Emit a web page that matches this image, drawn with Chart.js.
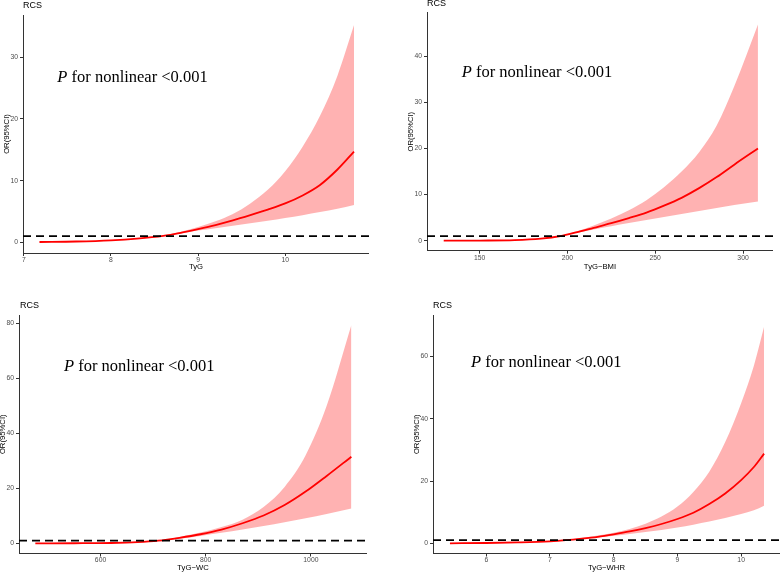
<!DOCTYPE html>
<html><head><meta charset="utf-8">
<script src="https://cdn.jsdelivr.net/npm/chart.js@4"></script>
<style>
html,body{margin:0;padding:0;background:#fff;overflow:hidden;width:780px;height:572px;}
#wrap{position:relative;width:780px;height:572px;overflow:hidden;background:#fff;}
canvas{position:absolute;}
.rcs{position:absolute;font-family:'Liberation Sans',Arial,sans-serif;font-size:9px;line-height:9px;color:#000;white-space:nowrap;}
.ann{position:absolute;font-family:'Liberation Serif','Times New Roman',serif;font-size:16.5px;line-height:16.5px;color:#000;white-space:nowrap;}
</style></head><body><div id="wrap"></div>
<script>
// ---------- data ----------
const tygX     = [7.18, 7.6, 8.0, 8.3, 8.6, 8.8, 9.0, 9.2, 9.4, 9.6, 9.8, 10.0, 10.2, 10.4, 10.6, 10.79];
const tygOR    = [0.05, 0.13, 0.32, 0.6, 1.05, 1.55, 2.15, 2.8, 3.55, 4.4, 5.3, 6.3, 7.6, 9.3, 11.8, 14.7];
const tygLow   = [0.04, 0.11, 0.29, 0.56, 1.0, 1.45, 1.9, 2.3, 2.7, 3.1, 3.5, 3.95, 4.4, 4.9, 5.45, 6.05];
const tygUp    = [0.06, 0.15, 0.35, 0.64, 1.1, 1.7, 2.5, 3.4, 4.6, 6.3, 8.5, 11.5, 15.5, 20.5, 27.0, 35.2];

const bmiX     = [129.6, 150, 170, 185, 196, 205, 215, 225, 235, 245, 255, 265, 275, 285, 295, 308.5];
const bmiOR    = [0.01, 0.03, 0.12, 0.45, 1.0, 1.8, 2.8, 3.8, 4.9, 6.1, 7.6, 9.3, 11.4, 13.8, 16.5, 20.0];
const bmiLow   = [0.01, 0.02, 0.1, 0.4, 0.92, 1.65, 2.45, 3.15, 3.85, 4.5, 5.15, 5.8, 6.45, 7.1, 7.75, 8.5];
const bmiUp    = [0.01, 0.04, 0.14, 0.5, 1.08, 2.0, 3.3, 4.8, 6.6, 8.8, 11.6, 15.0, 19.2, 25.0, 33.5, 46.9];

const wcX      = [476, 550, 620, 670, 710, 750, 790, 830, 870, 910, 950, 990, 1030, 1077];
const wcOR     = [0.01, 0.03, 0.12, 0.4, 0.95, 2.0, 3.3, 5.0, 7.3, 10.1, 13.9, 18.8, 24.5, 31.5];
const wcLow    = [0.01, 0.02, 0.1, 0.35, 0.88, 1.7, 2.7, 3.8, 5.0, 6.3, 7.7, 9.1, 10.7, 12.7];
const wcUp     = [0.01, 0.04, 0.14, 0.45, 1.05, 2.3, 3.9, 5.9, 8.6, 13.2, 20.5, 32.0, 50.0, 79.4];

const whrX     = [5.43, 6.0, 6.5, 7.0, 7.25, 7.5, 7.75, 8.0, 8.25, 8.5, 8.75, 9.0, 9.25, 9.5, 9.75, 10.0, 10.2, 10.36];
const whrOR    = [0.01, 0.1, 0.3, 0.65, 1.0, 1.5, 2.1, 2.9, 3.8, 4.9, 6.2, 7.8, 9.8, 12.6, 16.0, 20.3, 24.5, 28.8];
const whrLow   = [0.01, 0.08, 0.26, 0.56, 0.9, 1.35, 1.85, 2.4, 3.0, 3.65, 4.3, 5.1, 6.0, 7.0, 8.1, 9.4, 10.6, 12.1];
const whrUp    = [0.01, 0.12, 0.34, 0.74, 1.1, 1.7, 2.5, 3.4, 4.6, 6.3, 8.6, 11.8, 16.5, 23.0, 32.5, 45.0, 57.0, 69.5];

const refOR = 1;

const tygXTicks = [7, 8, 9, 10];
const bmiXTicks = [150, 200, 250, 300];
const wcXTicks  = [600, 800, 1000];
const whrXTicks = [6, 7, 8, 9, 10];
const tygYTicks = [0, 10, 20, 30];
const bmiYTicks = [0, 10, 20, 30, 40];
const wcYTicks  = [0, 20, 40, 60, 80];
const whrYTicks = [0, 20, 40, 60];

const xTitles = ['TyG', 'TyG\u2212BMI', 'TyG\u2212WC', 'TyG\u2212WHR'];
const yTitle = 'OR(95%CI)';
const panelTitle = 'RCS';
const annText = 'for nonlinear <0.001';

// ---------- layout (pixels) ----------
const panels = [
  {x: tygX, m: tygOR, lo: tygLow, hi: tygUp, xt: tygXTicks, yt: tygYTicks,
   axisLeft: 23, right: 369, ctop: 0, top: 15, bottom: 253, xmin: 6.991, xmax: 10.962, ymin: -1.73, ymax: 36.84, tpad: 13.1,
   rcs: [23, 0.7], ann: [57.3, 69.2]},
  {x: bmiX, m: bmiOR, lo: bmiLow, hi: bmiUp, xt: bmiXTicks, yt: bmiYTicks,
   axisLeft: 427, right: 773, ctop: 0, top: 12.7, bottom: 250.7, xmin: 120.08, xmax: 317.06, ymin: -2.17, ymax: 49.46, tpad: 13.7,
   rcs: [427, -0.9], ann: [461.7, 64.2]},
  {x: wcX, m: wcOR, lo: wcLow, hi: wcUp, xt: wcXTicks, yt: wcYTicks,
   axisLeft: 19, right: 367, ctop: 300, top: 315, bottom: 553.5, xmin: 444.95, xmax: 1106.7, ymin: -3.7, ymax: 83.0, tpad: 12.4,
   rcs: [20, 301.4], ann: [64, 358.2]},
  {x: whrX, m: whrOR, lo: whrLow, hi: whrUp, xt: whrXTicks, yt: whrYTicks,
   axisLeft: 433, right: 780, ctop: 300, top: 315, bottom: 553.5, xmin: 5.164, xmax: 10.61, ymin: -3.27, ymax: 73.3, tpad: 12.4,
   rcs: [433, 301.4], ann: [471, 354.2]}
];

const H = 285, YW = 22;
const wrap = document.getElementById('wrap');
const pts = (xs, ys) => xs.map((v, i) => ({x: v, y: ys[i]}));

panels.forEach((p, k) => {
  const cl = p.axisLeft - YW;
  const cw = p.right - cl;
  const cv = document.createElement('canvas');
  cv.width = cw; cv.height = H;
  cv.style.left = cl + 'px'; cv.style.top = p.ctop + 'px';
  cv.style.width = cw + 'px'; cv.style.height = H + 'px';
  wrap.appendChild(cv);

  const r = document.createElement('div');
  r.className = 'rcs'; r.textContent = panelTitle;
  r.style.left = p.rcs[0] + 'px'; r.style.top = p.rcs[1] + 'px';
  wrap.appendChild(r);

  const a = document.createElement('div');
  a.className = 'ann';
  a.innerHTML = '<i>P</i> ' + annText.replace('<', '&lt;');
  a.style.left = p.ann[0] + 'px'; a.style.top = p.ann[1] + 'px';
  wrap.appendChild(a);

  const axisCommon = {
    grid: {display: true, drawOnChartArea: false, drawTicks: true, tickLength: 3, color: '#333333', lineWidth: 1},
    border: {display: true, color: '#333333', width: 1}
  };
  const tickFont = {family: 'Liberation Sans', size: 6.8};
  const titleFont = {family: 'Liberation Sans', size: 7.7};

  new Chart(cv, {
    type: 'line',
    data: {
      datasets: [
        {data: [{x: p.xmin, y: refOR}, {x: p.xmax, y: refOR}], borderColor: '#000000', borderWidth: 1.8,
         borderDash: [8, 5], pointRadius: 0, fill: false, tension: 0},
        {data: pts(p.x, p.m), borderColor: '#FF0000', borderWidth: 1.8, pointRadius: 0, fill: false,
         cubicInterpolationMode: 'monotone'},
        {data: pts(p.x, p.hi), borderWidth: 0, borderColor: 'rgba(0,0,0,0)', pointRadius: 0,
         fill: '+1', backgroundColor: 'rgba(255,0,0,0.3)', cubicInterpolationMode: 'monotone'},
        {data: pts(p.x, p.lo), borderWidth: 0, borderColor: 'rgba(0,0,0,0)', pointRadius: 0,
         fill: false, cubicInterpolationMode: 'monotone'}
      ]
    },
    options: {
      responsive: false, animation: false, devicePixelRatio: 1,
      layout: {padding: {top: p.top - p.ctop, left: 0, right: 0, bottom: 0}},
      plugins: {legend: {display: false}, tooltip: {enabled: false}, title: {display: false}},
      scales: {
        x: Object.assign({}, axisCommon, {
          type: 'linear', min: p.xmin, max: p.xmax,
          afterBuildTicks: s => { s.ticks = p.xt.map(v => ({value: v})); },
          afterFit: s => { s.height = H - (p.bottom - p.ctop); },
          ticks: {color: '#4D4D4D', font: tickFont, padding: 0, maxRotation: 0, autoSkip: false,
                  callback: v => String(v)},
          title: {display: true, text: xTitles[k], color: '#000000', font: titleFont,
                  padding: {top: 0, bottom: p.tpad}}
        }),
        y: Object.assign({}, axisCommon, {
          type: 'linear', min: p.ymin, max: p.ymax,
          afterBuildTicks: s => { s.ticks = p.yt.map(v => ({value: v})); },
          afterFit: s => { s.width = YW; },
          ticks: {color: '#4D4D4D', font: tickFont, padding: 2, autoSkip: false, callback: v => String(v)},
          title: {display: true, text: yTitle, color: '#000000', font: titleFont,
                  padding: {top: 1.4, bottom: 0}}
        })
      }
    }
  });
});
</script></body></html>
